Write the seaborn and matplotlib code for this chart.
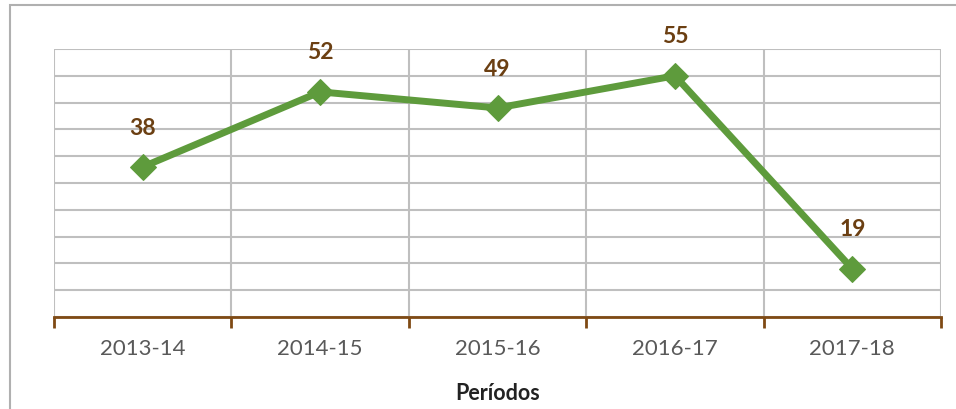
import pandas as pd
import seaborn as sns
import matplotlib.pyplot as plt
from matplotlib.patches import Rectangle

# --- data ---
periodos = ['2013-14', '2014-15', '2015-16', '2016-17', '2017-18']
valores = [38, 52, 49, 55, 19]

LINE_GREEN = '#5E9B3C'
LABEL_BROWN = '#6B3F12'
AXIS_BROWN = '#7F4A14'
GRID_GRAY = '#BFBFBF'

df = pd.DataFrame({'periodo': periodos, 'valor': valores})

sns.set_theme(style='white')
plt.rcParams['font.family'] = ['Lato', 'DejaVu Sans']

fig = plt.figure(figsize=(9.56, 4.09), dpi=100)
ax = fig.add_axes([54 / 956, 92 / 409, 887 / 956, 268 / 409])

sns.lineplot(data=df, x='periodo', y='valor', ax=ax, color=LINE_GREEN,
             linewidth=5, marker='D', markersize=13,
             markeredgecolor=LINE_GREEN, sort=False, zorder=3)

# data labels
for i, v in enumerate(valores):
    ax.annotate(str(v), (i, v), xytext=(0, 28), textcoords='offset points',
                ha='center', va='center', fontsize=16.5, fontweight='bold',
                color=LABEL_BROWN)

ax.set_xlim(-0.5, len(periodos) - 0.5)
ax.set_ylim(10, 60)
ax.set_yticks(range(10, 61, 5))
ax.set_yticklabels([])
ax.tick_params(axis='y', length=0)

# vertical grid at category boundaries
for b in [i - 0.5 for i in range(len(periodos) + 1)]:
    ax.axvline(b, color=GRID_GRAY, lw=1.5, zorder=1)
ax.yaxis.grid(True, color=GRID_GRAY, lw=1.5, zorder=1)
ax.set_axisbelow(True)

for s in ['top', 'right', 'left']:
    ax.spines[s].set_visible(False)
ax.spines['bottom'].set_color(AXIS_BROWN)
ax.spines['bottom'].set_linewidth(2)
ax.spines['bottom'].set_zorder(4)

ax.set_xticks(range(len(periodos)))
ax.set_xticklabels(periodos, fontsize=16, color='#595959')
ax.tick_params(axis='x', length=0, pad=16)
# brown tick marks at the boundaries
ax.set_xticks([i - 0.5 for i in range(len(periodos) + 1)], minor=True)
ax.tick_params(axis='x', which='minor', length=8, width=2, color=AXIS_BROWN,
               direction='out', bottom=True)

ax.set_xlabel('Períodos', fontsize=15.5, fontweight='bold', color='#222222',
              labelpad=17)
ax.set_ylabel('')

# outer chart border
fig.patches.append(Rectangle((10 / 956, -0.1), 1.2, (409 - 5) / 409 + 0.1,
                             transform=fig.transFigure, fill=False,
                             edgecolor='#B0B0B0', lw=1.5))

fig.savefig('out.png', dpi=100)
